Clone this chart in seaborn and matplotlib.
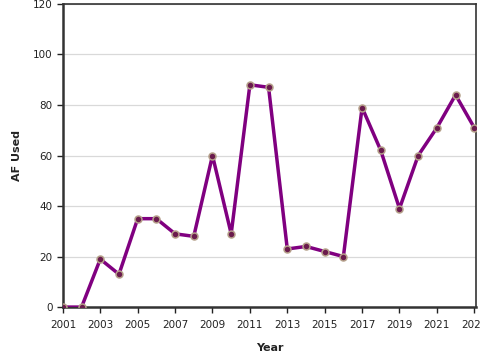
import matplotlib
matplotlib.use('Agg')
import matplotlib.pyplot as plt
import seaborn as sns
import pandas as pd

# data
years = list(range(2001, 2024))
af_used = [0, 0, 19, 13, 35, 35, 29, 28, 60, 29, 88, 87,
           23, 24, 22, 20, 79, 62, 39, 60, 71, 84, 71]
xticks = list(range(2001, 2024, 2))

df = pd.DataFrame({'Year': years, 'AF Used': af_used})

sns.set_style('white')
plt.rcParams['font.family'] = ['DejaVu Sans']

fig, ax = plt.subplots(figsize=(4.8, 3.6), dpi=100)
fig.subplots_adjust(left=0.131, right=0.992, top=0.989, bottom=0.147)

sns.lineplot(data=df, x='Year', y='AF Used', ax=ax, color='#800080', lw=2.5,
             marker='o', markersize=5, markerfacecolor='#6a1b4d',
             markeredgecolor='#b5a08a', markeredgewidth=1.1, zorder=3)

ax.set_xlim(2001, 2023.1)
ax.set_ylim(0, 120)
ax.set_xticks(xticks)
ax.set_yticks(range(0, 121, 20))
ax.yaxis.grid(True, color='#d9d9d9', lw=0.9)
ax.xaxis.grid(False)
ax.tick_params(axis='both', labelsize=7.5, colors='#222222', length=4,
               width=1, direction='out', left=True, bottom=True)
ax.tick_params(axis='x', pad=5)

for side in ['left', 'bottom']:
    ax.spines[side].set_linewidth(1.8)
    ax.spines[side].set_color('#333333')
for side in ['top', 'right']:
    ax.spines[side].set_linewidth(1.2)
    ax.spines[side].set_color('#333333')

ax.set_xlabel('Year', fontsize=8, fontweight='bold', color='#222222', labelpad=10)
ax.set_ylabel('AF Used', fontsize=8, fontweight='bold', color='#222222', labelpad=8)

plt.savefig('out.png', dpi=100)
